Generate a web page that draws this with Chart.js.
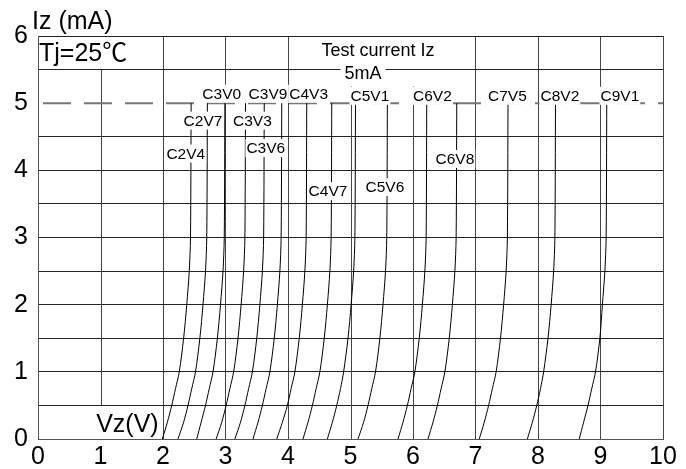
<!DOCTYPE html>
<html>
<head>
<meta charset="utf-8">
<script src="https://cdn.jsdelivr.net/npm/chart.js@4.4.1/dist/chart.umd.min.js"></script>
<style>
  html, body { margin: 0; padding: 0; background: #fff; }
</style>
</head>
<body>
<canvas id="chart" width="686" height="469"></canvas>
<script>
// zener types, one curve each
const types = ['C2V4','C2V7','C3V0','C3V3','C3V6','C3V9','C4V3','C4V7','C5V1','C5V6','C6V2','C6V8','C7V5','C8V2','C9V1'];

// Iz (mA) levels where the Vz values below were read
const izLevels = [0, 0.25, 0.5, 0.75, 1, 1.5, 2, 2.5, 3, 5];

// Vz (V) of each curve at those Iz levels
const vzC2V4 = [1.99, 2.07, 2.14, 2.20, 2.26, 2.33, 2.38, 2.42, 2.44, 2.45];
const vzC2V7 = [2.24, 2.33, 2.40, 2.46, 2.52, 2.59, 2.64, 2.68, 2.70, 2.71];
const vzC3V0 = [2.54, 2.61, 2.68, 2.74, 2.80, 2.87, 2.92, 2.96, 2.98, 2.99];
const vzC3V3 = [2.85, 2.94, 3.01, 3.07, 3.13, 3.20, 3.25, 3.29, 3.31, 3.32];
const vzC3V6 = [3.15, 3.24, 3.31, 3.37, 3.43, 3.50, 3.55, 3.59, 3.61, 3.62];
const vzC3V9 = [3.44, 3.52, 3.59, 3.65, 3.71, 3.78, 3.83, 3.87, 3.89, 3.90];
const vzC4V3 = [3.82, 3.91, 3.99, 4.05, 4.11, 4.18, 4.23, 4.27, 4.29, 4.30];
const vzC4V7 = [4.24, 4.32, 4.39, 4.45, 4.51, 4.58, 4.63, 4.67, 4.69, 4.70];
const vzC5V1 = [4.63, 4.71, 4.78, 4.84, 4.89, 4.96, 5.01, 5.05, 5.07, 5.08];
const vzC5V6 = [5.12, 5.21, 5.28, 5.34, 5.40, 5.47, 5.52, 5.56, 5.58, 5.59];
const vzC6V2 = [5.76, 5.84, 5.91, 5.97, 6.03, 6.10, 6.15, 6.19, 6.21, 6.22];
const vzC6V8 = [6.24, 6.32, 6.39, 6.45, 6.51, 6.58, 6.63, 6.67, 6.69, 6.70];
const vzC7V5 = [7.06, 7.14, 7.21, 7.27, 7.33, 7.40, 7.45, 7.49, 7.51, 7.52];
const vzC8V2 = [7.83, 7.91, 7.98, 8.04, 8.09, 8.16, 8.21, 8.25, 8.27, 8.28];
const vzC9V1 = [8.66, 8.73, 8.80, 8.86, 8.92, 8.99, 9.03, 9.07, 9.09, 9.10];

const curves = [vzC2V4, vzC2V7, vzC3V0, vzC3V3, vzC3V6, vzC3V9, vzC4V3, vzC4V7,
                vzC5V1, vzC5V6, vzC6V2, vzC6V8, vzC7V5, vzC8V2, vzC9V1];

const testCurrent = 5;

// where each type label sits (Vz, Iz)
const labelVz = [2.365, 2.64, 2.94, 3.43, 3.645, 3.68, 4.33, 4.64, 5.31, 5.55, 6.31, 6.67, 7.51, 8.35, 9.31];
const labelIz = [4.25, 4.74, 5.14, 4.74, 4.33, 5.14, 5.14, 3.69, 5.11, 3.75, 5.11, 4.17, 5.11, 5.11, 5.11];

const FONT = 'Arial, "Liberation Sans", "Noto Sans CJK SC", sans-serif';
const hiddenGridX = [1, 5, 6];
// vertical grid lines that only run part of the height: [Vz, from Iz, to Iz]
const partialGrid = [[1, 0.5, 5.5], [5, 0, 5.25], [6, 0, 5.25]];

const datasets = curves.map((vals, i) => ({
  label: types[i],
  data: vals.map((v, j) => ({ x: v, y: izLevels[j] })),
  borderColor: '#000',
  borderWidth: 1,
  pointRadius: 0,
  tension: 0.3,
  fill: false
}));

datasets.push({
  label: 'test',
  data: [{ x: 0, y: testCurrent }, { x: 10, y: testCurrent }],
  borderColor: '#777',
  borderWidth: 2,
  borderDash: [28, 13],
  borderDashOffset: 36,
  pointRadius: 0,
  fill: false
});

function boxText(ctx, txt, px, py, font, padX, padT, padB) {
  ctx.font = font;
  const w = ctx.measureText(txt).width;
  const m = ctx.measureText('C');
  const h = m.actualBoundingBoxAscent;
  ctx.fillStyle = '#fff';
  ctx.fillRect(px - w / 2 - padX, py - h / 2 - padT, w + 2 * padX, h + padT + padB);
  ctx.fillStyle = '#000';
  ctx.textAlign = 'center';
  ctx.textBaseline = 'alphabetic';
  ctx.fillText(txt, px, py + h / 2);
}

const overlay = {
  id: 'overlay',
  beforeDatasetsDraw(chart) {
    const { ctx, scales: { x, y } } = chart;
    ctx.save();
    ctx.strokeStyle = '#444';
    ctx.lineWidth = 1;
    partialGrid.forEach(([v, a, b]) => {
      const px = Math.round(x.getPixelForValue(v)) + 0.5;
      ctx.beginPath();
      ctx.moveTo(px, y.getPixelForValue(a));
      ctx.lineTo(px, y.getPixelForValue(b));
      ctx.stroke();
    });
    ctx.restore();
  },
  afterDatasetsDraw(chart) {
    const { ctx, chartArea, scales: { x, y } } = chart;
    ctx.save();
    types.forEach((t, i) => {
      boxText(ctx, t, x.getPixelForValue(labelVz[i]), y.getPixelForValue(labelIz[i]),
        '15.5px ' + FONT, 1, 4, 4);
    });
    // test current note
    ctx.fillStyle = '#000';
    ctx.textAlign = 'center';
    ctx.textBaseline = 'middle';
    ctx.font = '18px ' + FONT;
    ctx.fillText('Test current Iz', x.getPixelForValue(5.44), y.getPixelForValue(5.77));
    boxText(ctx, '5mA', x.getPixelForValue(5.2), y.getPixelForValue(5.42), '18px ' + FONT, 4, 4, 3);

    ctx.fillStyle = '#000';
    ctx.textAlign = 'left';
    ctx.textBaseline = 'middle';
    ctx.font = '25px ' + FONT;
    ctx.fillText('Tj=25\u2103', chartArea.left + 1, y.getPixelForValue(5.73));
    ctx.fillText('Vz(V)', x.getPixelForValue(0.93), y.getPixelForValue(0.2));
    ctx.fillText('Iz (mA)', chartArea.left - 6, chartArea.top - 14);
    ctx.restore();
  }
};

new Chart(document.getElementById('chart'), {
  type: 'line',
  data: { datasets: datasets },
  options: {
    responsive: false,
    animation: false,
    layout: { padding: { top: 36, right: 23, left: 0, bottom: 0 } },
    plugins: { legend: { display: false }, tooltip: { enabled: false } },
    scales: {
      x: {
        type: 'linear', min: 0, max: 10,
        ticks: { stepSize: 1, autoSkip: false, padding: 3, color: '#000', font: { family: FONT, size: 25 } },
        grid: {
          drawTicks: false, lineWidth: 1,
          color: c => hiddenGridX.includes(c.tick && c.tick.value) ? 'rgba(0,0,0,0)' : '#444'
        },
        border: { color: '#555', width: 1 },
        afterFit: s => { s.height = 30; }
      },
      y: {
        type: 'linear', min: 0, max: 6,
        ticks: {
          stepSize: 0.5, autoSkip: false, padding: 10, color: '#000',
          font: { family: FONT, size: 25 },
          callback: v => Number.isInteger(v) ? v : ''
        },
        grid: {
          drawTicks: false, lineWidth: 1,
          color: c => (c.tick && c.tick.value === testCurrent) ? 'rgba(0,0,0,0)' : '#222'
        },
        border: { color: '#555', width: 1 },
        afterFit: s => { s.width = 38; }
      }
    }
  },
  plugins: [overlay]
});
</script>
</body>
</html>
